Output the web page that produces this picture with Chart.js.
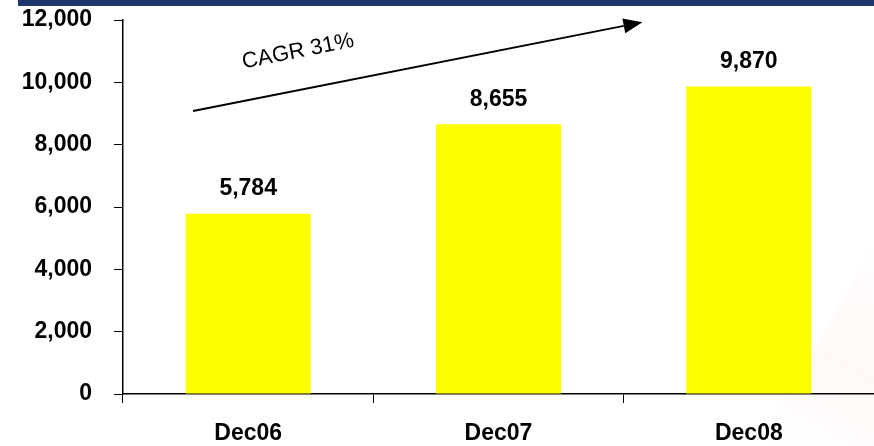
<!DOCTYPE html>
<html>
<head>
<meta charset="utf-8">
<script src="https://cdn.jsdelivr.net/npm/chart.js@4/dist/chart.umd.min.js"></script>
<style>
  html, body { margin: 0; padding: 0; background: #fff; }
  #wrap { position: relative; width: 874px; height: 446px; }
</style>
</head>
<body>
<div id="wrap"><canvas id="cagr-chart"></canvas></div>
<script>
(function () {
    'use strict';

    var periods = ['Dec06', 'Dec07', 'Dec08'];
    var totals = [5784, 8655, 9870];
    var yTicks = [0, 2000, 4000, 6000, 8000, 10000, 12000];
    var growthLabel = 'CAGR 31%';
    // arrow ends in data units: [category index, value]
    var arrowFrom = [-0.22, 9080];
    var arrowTo = [1.575, 11930];

    var boldFont = { family: 'Liberation Sans', size: 23, weight: 'bold' };

    function fmt(v) { return v.toLocaleString('en-US'); }

    /* ─── Header strip and faint corner wash ─── */
    var backdrop = {
        id: 'backdrop',
        beforeDraw: function (chart) {
            var c = chart.ctx;
            c.save();
            c.fillStyle = '#1f3869';
            c.fillRect(18, 0, chart.width - 18, 6);
            var g = c.createLinearGradient(chart.width - 110, chart.height, chart.width, chart.height - 190);
            g.addColorStop(0, 'rgba(240,120,80,0.00)');
            g.addColorStop(0.5, 'rgba(240,120,80,0.05)');
            g.addColorStop(1, 'rgba(240,120,80,0.015)');
            c.fillStyle = g;
            c.beginPath();
            c.moveTo(chart.width - 115, chart.height);
            c.lineTo(chart.width, chart.height - 200);
            c.lineTo(chart.width, chart.height);
            c.closePath();
            c.fill();
            c.restore();
        }
    };

    /* ─── Value labels above bars ─── */
    var valueLabels = {
        id: 'valueLabels',
        afterDatasetsDraw: function (chart) {
            var c = chart.ctx;
            var meta = chart.getDatasetMeta(0);
            c.save();
            c.font = 'bold 23px "Liberation Sans"';
            c.fillStyle = '#000';
            c.textAlign = 'center';
            c.textBaseline = 'middle';
            meta.data.forEach(function (bar, i) {
                c.fillText(fmt(totals[i]), bar.x, bar.y - 25);
            });
            c.restore();
        }
    };

    /* ─── Growth arrow ─── */
    var growthArrow = {
        id: 'growthArrow',
        afterDraw: function (chart) {
            var xs = chart.scales.x, ys = chart.scales.y;
            var x0 = xs.getPixelForValue(0);
            var step = xs.getPixelForValue(1) - x0;
            var ax = x0 + arrowFrom[0] * step, ay = ys.getPixelForValue(arrowFrom[1]);
            var bx = x0 + arrowTo[0] * step, by = ys.getPixelForValue(arrowTo[1]);
            var ang = Math.atan2(by - ay, bx - ax);
            var head = 19, half = 7.5;
            var c = chart.ctx;
            c.save();
            c.strokeStyle = '#000';
            c.fillStyle = '#000';
            c.lineWidth = 2;
            c.beginPath();
            c.moveTo(ax, ay);
            c.lineTo(bx - head * Math.cos(ang), by - head * Math.sin(ang));
            c.stroke();
            c.translate(bx, by);
            c.rotate(ang);
            c.beginPath();
            c.moveTo(0, 0);
            c.lineTo(-head, -half);
            c.lineTo(-head, half);
            c.closePath();
            c.fill();
            c.restore();

            // label sits above the line, parallel to it
            var t = 0.25;
            var mx = ax + (bx - ax) * t, my = ay + (by - ay) * t;
            c.save();
            c.translate(mx + 38 * Math.sin(ang), my - 38 * Math.cos(ang));
            c.rotate(ang);
            c.font = '22px "Liberation Sans"';
            c.fillStyle = '#000';
            c.textAlign = 'center';
            c.textBaseline = 'middle';
            c.fillText(growthLabel, 0, 0);
            c.restore();
        }
    };

    new Chart(document.getElementById('cagr-chart'), {
        type: 'bar',
        data: {
            labels: periods,
            datasets: [{
                data: totals,
                backgroundColor: '#ffff00',
                borderWidth: 0,
                barPercentage: 0.5,
                categoryPercentage: 1.0
            }]
        },
        options: {
            responsive: true,
            maintainAspectRatio: false,
            animation: false,
            layout: { padding: { top: 20, left: 0, right: 0, bottom: 0 } },
            plugins: {
                legend: { display: false },
                tooltip: { enabled: false }
            },
            scales: {
                x: {
                    grid: { display: true, drawOnChartArea: false, offset: true, color: '#000', tickLength: 9, lineWidth: 1 },
                    border: { color: '#000', width: 1.5 },
                    ticks: { color: '#000', font: boldFont, padding: 17, maxRotation: 0 },
                    afterFit: function (s) { s.height = 52; }
                },
                y: {
                    min: 0,
                    max: 12000,
                    afterBuildTicks: function (s) { s.ticks = yTicks.map(function (v) { return { value: v }; }); },
                    grid: { display: true, drawOnChartArea: false, color: '#000', tickLength: 9, lineWidth: 1 },
                    border: { color: '#000', width: 1.5 },
                    ticks: {
                        color: '#000',
                        font: boldFont,
                        padding: 22,
                        callback: function (v) { return fmt(v); }
                    },
                    afterFit: function (s) {
                        s.width = 123;
                        s.paddingTop = 0;
                        s.paddingBottom = 0;
                    }
                }
            }
        },
        plugins: [backdrop, valueLabels, growthArrow]
    });
})();
</script>
</body>
</html>
